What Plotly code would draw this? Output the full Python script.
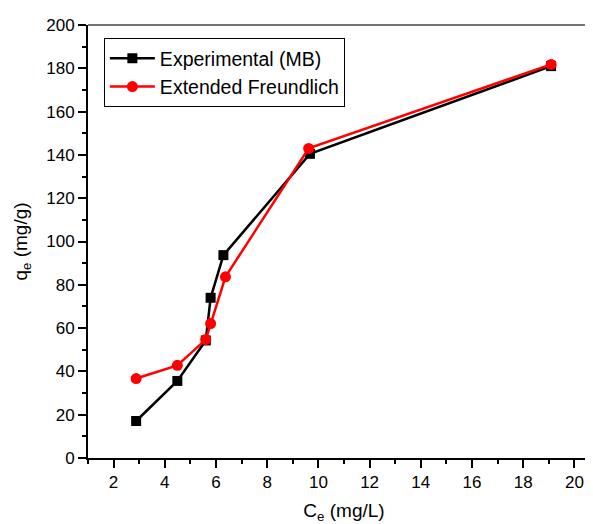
import plotly.graph_objects as go

ce_exp = [2.88, 4.49, 5.60, 5.79, 6.29, 9.67, 19.09]
qe_exp = [17.1, 35.6, 54.3, 74.0, 93.7, 140.5, 181.0]
ce_fit = [2.88, 4.49, 5.60, 5.79, 6.37, 9.62, 19.09]
qe_fit = [36.7, 42.8, 54.7, 62.1, 83.7, 143.0, 181.8]

FONT = "Liberation Sans, Arial, sans-serif"

fig = go.Figure()
fig.add_trace(go.Scatter(x=ce_exp, y=qe_exp, mode="lines+markers", name="Experimental (MB)",
                         line=dict(color="black", width=2.5),
                         marker=dict(symbol="square", size=10, color="black")))
fig.add_trace(go.Scatter(x=ce_fit, y=qe_fit, mode="lines+markers", name="Extended Freundlich",
                         line=dict(color="#ff0000", width=2.5),
                         marker=dict(symbol="circle", size=11, color="#ff0000")))

fig.update_layout(
    width=593, height=524,
    margin=dict(l=80, r=1, t=17, b=74),
    paper_bgcolor="white", plot_bgcolor="white",
    font=dict(family=FONT, size=17, color="black"),
    showlegend=True,
    legend=dict(x=0.031, y=0.97, xanchor="left", yanchor="top",
                bordercolor="black", borderwidth=1, bgcolor="white",
                font=dict(size=19.5, family=FONT), itemwidth=45,
                tracegroupgap=0),
    xaxis=dict(range=[1, 21], tickmode="array", tickvals=[2, 4, 6, 8, 10, 12, 14, 16, 18, 20],
               ticks="outside", ticklen=8, tickwidth=2, tickcolor="black", automargin=False,
               minor=dict(dtick=1, tick0=1, ticks="outside", ticklen=4, tickwidth=2, tickcolor="black"),
               showline=True, linecolor="black", linewidth=2, showgrid=False, zeroline=False,
               tickfont=dict(size=17),
               title=dict(text="C<sub>e</sub> (mg/L)", font=dict(size=19), standoff=12)),
    yaxis=dict(range=[0, 200], tickmode="array", tickvals=[0, 20, 40, 60, 80, 100, 120, 140, 160, 180, 200],
               ticks="outside", ticklen=8, tickwidth=2, tickcolor="black", automargin=False,
               minor=dict(dtick=10, tick0=0, ticks="outside", ticklen=4, tickwidth=2, tickcolor="black"),
               showline=True, linecolor="black", linewidth=2, showgrid=False, zeroline=False,
               tickfont=dict(size=17),
               title=dict(text="q<sub>e</sub> (mg/g)", font=dict(size=19), standoff=14)),
)
fig.add_shape(type="line", xref="paper", yref="paper", x0=0, x1=1, y0=1, y1=1,
              line=dict(color="#444444", width=1.5))

fig.write_html("out.html")
